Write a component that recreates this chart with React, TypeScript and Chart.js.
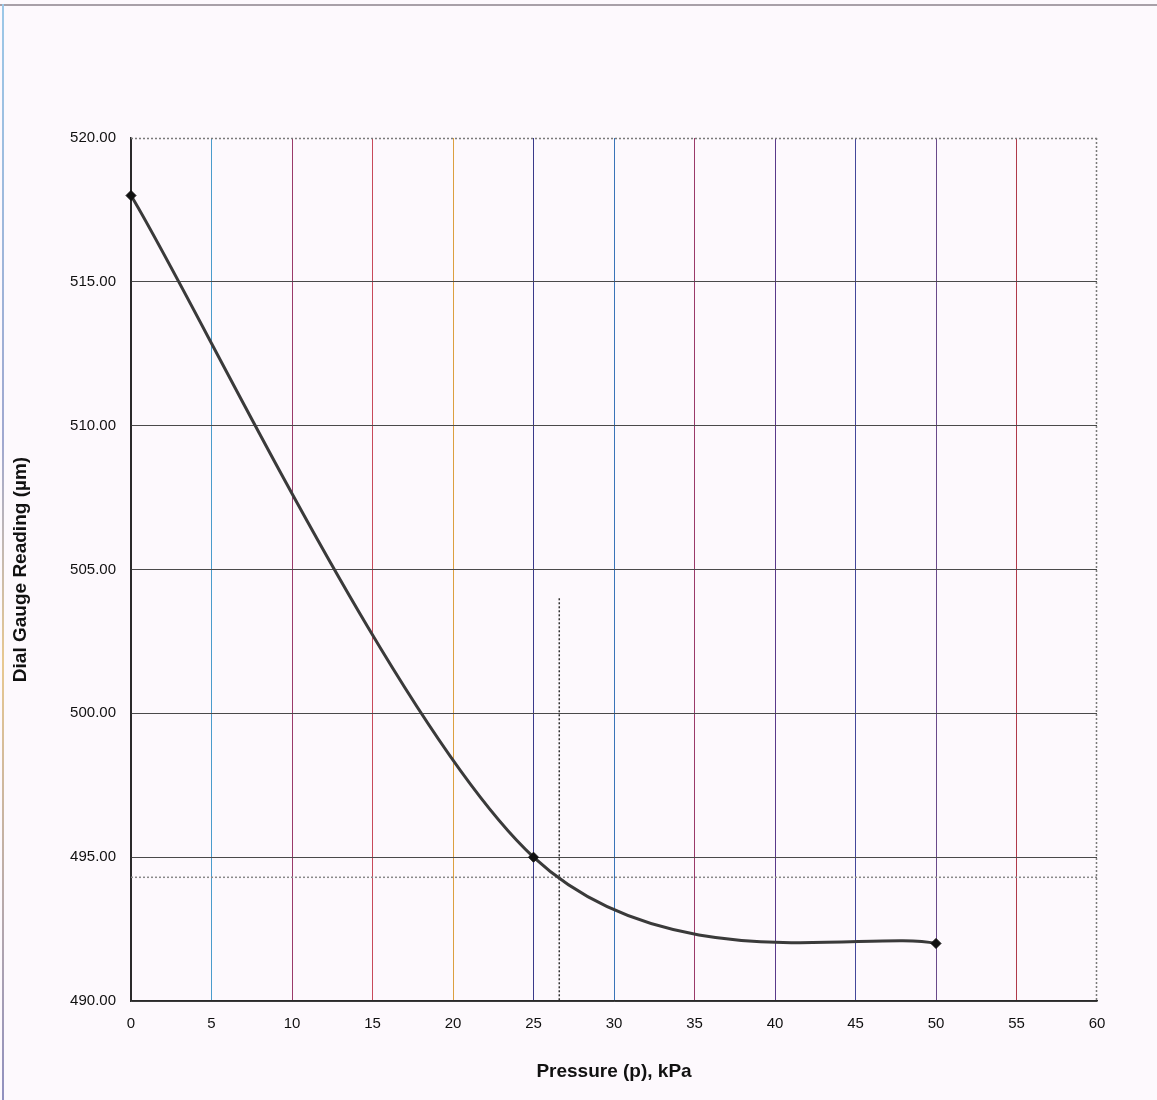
import React, { useEffect, useRef } from "react";
import { Chart, registerables } from "chart.js";

Chart.register(...registerables);

// ---- data ----
const pressureKPa = [0, 25, 50];
const dialReading = [518, 495, 492];
const guideVX = [26.6, 26.6];
const guideVY = [504, 490];
const guideHX = [0, 60];
const guideHY = [494.3, 494.3];
const xTitle = "Pressure (p), kPa";
const yTitle = "Dial Gauge Reading (µm)";

// colours of the scanned vertical grid lines (x = 0 ... 60)
const vGridColors = [
  "#2a2a2a", "#4a9ccc", "#9a3a6a", "#c84a5a", "#dca040", "#3a3a8a",
  "#3a74b8", "#9a3a6a", "#5a3a8a", "#44489a", "#6a4a8a", "#b03a4a", "rgba(0,0,0,0)",
];

const FONT = "'Liberation Sans', Arial, sans-serif";
const BG = "#fdf9fd";

// Excel-style smoothing of the fitted line (Bezier, 1/6 factor)
const excelSmooth = {
  id: "excelSmooth",
  beforeDatasetDraw(chart: any, args: any) {
    if (args.index !== 0) return;
    const meta = args.meta;
    const pts = meta.data as any[];
    const n = pts.length;
    for (let i = 0; i < n; i++) {
      const p = pts[i];
      const prev = pts[i - 1] ?? p;
      const next = pts[i + 1] ?? p;
      const dx = next.x - prev.x;
      const dy = next.y - prev.y;
      const dSpan = Math.hypot(dx, dy);
      const dPrev = Math.hypot(p.x - prev.x, p.y - prev.y);
      const dNext = Math.hypot(next.x - p.x, next.y - p.y);
      let fPrev = 1 / 6;
      let fNext = 1 / 6;
      if (dSpan > 0) {
        fPrev = Math.min(1 / 6, dPrev / 2 / dSpan);
        fNext = Math.min(1 / 6, dNext / 2 / dSpan);
      }
      p.cp1x = p.x - dx * fPrev;
      p.cp1y = p.y - dy * fPrev;
      p.cp2x = p.x + dx * fNext;
      p.cp2y = p.y + dy * fNext;
    }
    const line = meta.dataset;
    if (line) {
      line._pointsUpdated = true;
      line._path = undefined;
    }
  },
};

const frame = {
  id: "frame",
  beforeDraw(chart: any) {
    const { ctx, width, height } = chart;
    ctx.save();
    ctx.fillStyle = BG;
    ctx.fillRect(0, 0, width, height);
    ctx.restore();
  },
  afterDatasetsDraw(chart: any) {
    const { ctx, chartArea: a } = chart;
    ctx.save();
    ctx.strokeStyle = "#7a7a7a";
    ctx.lineWidth = 1.5;
    ctx.setLineDash([2, 2]);
    ctx.beginPath();
    ctx.moveTo(a.left, a.top + 0.5);
    ctx.lineTo(a.right, a.top + 0.5);
    ctx.moveTo(a.right - 0.5, a.top);
    ctx.lineTo(a.right - 0.5, a.bottom);
    ctx.stroke();
    ctx.restore();
  },
};

export default function App() {
  const ref = useRef<HTMLCanvasElement | null>(null);

  useEffect(() => {
    if (!ref.current) return;
    const chart = new Chart(ref.current, {
      type: "line",
      data: {
        datasets: [
          {
            label: "Dial gauge",
            data: pressureKPa.map((x, i) => ({ x, y: dialReading[i] })),
            borderColor: "#3a3a3a",
            borderWidth: 3,
            tension: 0.4,
            pointStyle: "rectRot",
            pointRadius: 5,
            pointBackgroundColor: "#111",
            pointBorderColor: "#111",
            pointBorderWidth: 1,
            clip: false,
            order: 0,
          },
          {
            label: "guide-v",
            data: guideVX.map((x, i) => ({ x, y: guideVY[i] })),
            borderColor: "#333",
            borderWidth: 1.5,
            borderDash: [2, 2],
            pointRadius: 0,
            tension: 0,
            order: 1,
          },
          {
            label: "guide-h",
            data: guideHX.map((x, i) => ({ x, y: guideHY[i] })),
            borderColor: "#8a8a8a",
            borderWidth: 1.5,
            borderDash: [2, 2],
            pointRadius: 0,
            tension: 0,
            order: 1,
          },
        ],
      },
      options: {
        animation: false,
        responsive: true,
        maintainAspectRatio: false,
        layout: { padding: { top: 138, right: 60, left: 0, bottom: 0 } },
        plugins: {
          legend: { display: false },
          tooltip: { enabled: false },
        },
        scales: {
          x: {
            type: "linear",
            min: 0,
            max: 60,
            ticks: {
              stepSize: 5,
              padding: 14,
              color: "#111",
              font: { family: FONT, size: 15 },
              maxRotation: 0,
            },
            grid: {
              drawTicks: false,
              color: (c: any) => vGridColors[c.index] ?? "#666",
              lineWidth: 1,
            },
            border: { display: true, color: "#2a2a2a", width: 1.5 },
            title: {
              display: true,
              text: xTitle,
              color: "#111",
              font: { family: FONT, size: 19, weight: "bold" },
              padding: { top: 0, bottom: 17 },
            },
            afterFit: (s: any) => {
              s.height = 99;
            },
          },
          y: {
            type: "linear",
            min: 490,
            max: 520,
            ticks: {
              stepSize: 5,
              padding: 15,
              color: "#111",
              font: { family: FONT, size: 15 },
              callback: (v: any) => Number(v).toFixed(2),
            },
            grid: {
              drawTicks: false,
              color: (c: any) =>
                c.tick && c.tick.value >= 520 ? "rgba(0,0,0,0)" : "#4a4a4a",
              lineWidth: 1,
            },
            border: { display: true, color: "#2a2a2a", width: 1.5 },
            title: {
              display: true,
              text: yTitle,
              color: "#111",
              font: { family: FONT, size: 19, weight: "bold" },
              padding: { top: 9, bottom: 0 },
            },
            afterFit: (s: any) => {
              s.width = 131;
            },
          },
        },
      },
      plugins: [excelSmooth, frame],
    });
    return () => chart.destroy();
  }, []);

  return (
    <div
      style={{
        position: "absolute",
        left: 0,
        top: 0,
        width: 1157,
        height: 1100,
        background: BG,
      }}
    >
      <canvas ref={ref} />
      <div
        style={{
          position: "absolute",
          left: 0,
          top: 4,
          width: 1157,
          height: 2,
          background: "#a8a0a8",
        }}
      />
      <div
        style={{
          position: "absolute",
          left: 2,
          top: 4,
          width: 2,
          height: 1096,
          background: "linear-gradient(#9cc8e8, #a0a8d0 40%, #e8c890 60%, #9090c0)",
        }}
      />
    </div>
  );
}
